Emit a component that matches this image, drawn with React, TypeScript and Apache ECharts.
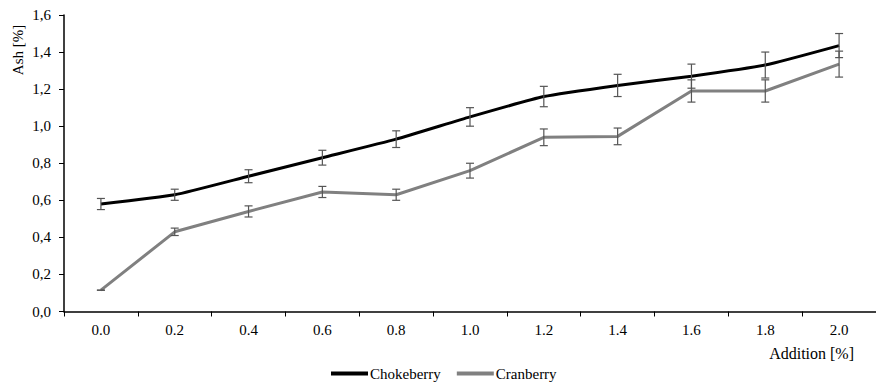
import React, { useEffect, useRef } from "react";
import * as echarts from "echarts";

const categories = ["0.0", "0.2", "0.4", "0.6", "0.8", "1.0", "1.2", "1.4", "1.6", "1.8", "2.0"];
const chokeberry = [0.58, 0.63, 0.73, 0.83, 0.93, 1.05, 1.16, 1.22, 1.27, 1.33, 1.435];
const chokeberryErr = [0.03, 0.03, 0.035, 0.04, 0.045, 0.05, 0.055, 0.06, 0.065, 0.07, 0.065];
const cranberry = [0.115, 0.43, 0.54, 0.645, 0.63, 0.76, 0.94, 0.945, 1.19, 1.19, 1.335];
const cranberryErr = [0.0, 0.02, 0.03, 0.03, 0.03, 0.04, 0.045, 0.045, 0.06, 0.06, 0.07];
const yTicks = ["0,0", "0,2", "0,4", "0,6", "0,8", "1,0", "1,2", "1,4", "1,6"];

const FONT = "'Liberation Serif', 'Times New Roman', serif";
const FS = 15;

function errorSeries(name: string, vals: number[], errs: number[]) {
  return {
    type: "custom",
    name: name + "-err",
    z: 5,
    silent: true,
    data: vals.map((v, i) => [i, v - errs[i], v + errs[i]]),
    renderItem: (params: any, api: any) => {
      const x = api.value(0);
      const lo = api.coord([x, api.value(1)]);
      const hi = api.coord([x, api.value(2)]);
      const half = 4;
      const style = { stroke: "#555555", lineWidth: 1.2 };
      return {
        type: "group",
        children: [
          { type: "line", shape: { x1: lo[0], y1: lo[1], x2: hi[0], y2: hi[1] }, style },
          { type: "line", shape: { x1: lo[0] - half, y1: lo[1], x2: lo[0] + half, y2: lo[1] }, style },
          { type: "line", shape: { x1: hi[0] - half, y1: hi[1], x2: hi[0] + half, y2: hi[1] }, style },
        ],
      };
    },
  };
}

export default function App() {
  const ref = useRef<HTMLDivElement>(null);
  useEffect(() => {
    if (!ref.current) return;
    const chart = echarts.init(ref.current, null, { renderer: "svg" });
    chart.setOption({
      animation: false,
      backgroundColor: "#ffffff",
      textStyle: { fontFamily: FONT },
      grid: { left: 64, right: -3, top: 15, bottom: 73.5, containLabel: false },
      legend: {
        data: ["Chokeberry", "Cranberry"],
        left: 326,
        top: 361,
        icon: "rect",
        itemWidth: 37,
        itemHeight: 4,
        itemGap: 16,
        textStyle: { fontFamily: FONT, fontSize: FS, color: "#000", padding: [0, 0, 0, -3] },
      },
      xAxis: {
        type: "category",
        data: categories,
        boundaryGap: true,
        axisLine: { lineStyle: { color: "#000", width: 1.5 } },
        axisTick: { show: true, length: 5, lineStyle: { color: "#000" } },
        axisLabel: { color: "#000", fontSize: FS, fontFamily: FONT, margin: 11 },
        splitLine: { show: false },
      },
      yAxis: {
        type: "value",
        min: 0,
        max: 1.6,
        interval: 0.2,
        axisLine: { show: true, lineStyle: { color: "#000", width: 1.5 } },
        axisTick: { show: true, length: 5, lineStyle: { color: "#000" } },
        axisLabel: {
          color: "#000",
          fontSize: FS,
          fontFamily: FONT,
          margin: 13,
          formatter: (v: number) => yTicks[Math.round(v / 0.2)] ?? "",
        },
        splitLine: { show: false },
      },
      graphic: [
        {
          type: "text",
          x: 18,
          y: 50,
          rotation: Math.PI / 2,
          style: {
            text: "Ash [%]",
            font: FS + "px " + FONT,
            fill: "#000",
            textAlign: "center",
            textVerticalAlign: "middle",
          },
        },
        {
          type: "text",
          x: 854,
          y: 353,
          style: {
            text: "Addition [%]",
            font: "16px " + FONT,
            fill: "#000",
            textAlign: "right",
            textVerticalAlign: "middle",
          },
        },
      ],
      series: [
        {
          name: "Chokeberry",
          type: "line",
          data: chokeberry,
          smooth: 0.15,
          symbol: "none",
          z: 3,
          lineStyle: { color: "#000000", width: 3 },
          itemStyle: { color: "#000000" },
        },
        {
          name: "Cranberry",
          type: "line",
          data: cranberry,
          symbol: "none",
          z: 2,
          lineStyle: { color: "#808080", width: 3 },
          itemStyle: { color: "#808080" },
        },
        errorSeries("Chokeberry", chokeberry, chokeberryErr),
        errorSeries("Cranberry", cranberry, cranberryErr),
      ],
    });
    return () => chart.dispose();
  }, []);
  return <div ref={ref} style={{ width: 876, height: 385, position: "absolute", left: 0, top: 0 }} />;
}
